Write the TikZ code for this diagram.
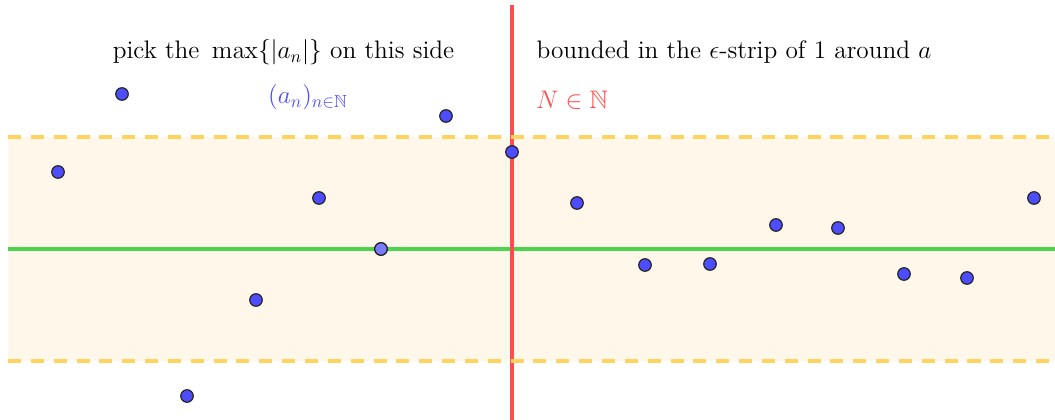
\documentclass[tikz,border=0pt]{standalone}
\usepackage{amsfonts,amsmath,amssymb}
\usepackage{xcolor}
\usetikzlibrary{arrows.meta}
\definecolor{ptblue}{HTML}{4D4DFF}
\definecolor{ptlight}{HTML}{7B7BFF}
\definecolor{nred}{HTML}{FF4D4D}
\definecolor{lgreen}{HTML}{4DD44D}
\definecolor{stripline}{HTML}{FFD35E}
\definecolor{stripfill}{HTML}{FFF8EA}
\tikzset{
  every picture/.style={font=\Large, line join=round, line cap=round},
  pt/.style={circle, draw=black!85, fill=ptblue, line width=0.7pt, inner sep=0pt, minimum size=0.25cm},
  bound/.style={draw=stripline, line width=2pt, dash pattern=on 7.4pt off 5.6pt, line cap=butt},
}
\begin{document}
\begin{tikzpicture}
\useasboundingbox (0,0) rectangle (21.1,8.4);
\fill[stripfill](0.16,1.18) rectangle (21.1,5.66);
\draw[lgreen,line width=1.8pt,line cap=butt](0.16,3.42)--(21.1,3.42);
\draw[nred,line width=2.1pt,line cap=butt](10.24,0)--(10.24,8.3);
\draw[bound](0.16,5.66)--(21.1,5.66);
\draw[bound](0.16,1.18)--(21.1,1.18);
\foreach \x/\y [count=\i] in {2.44/6.52,1.16/4.96,3.74/0.48,5.12/2.40,6.38/4.44,
  7.62/3.42,8.92/6.08,10.24/5.36,11.54/4.34,12.90/3.10,14.20/3.12,
  15.52/3.90,16.76/3.84,18.08/2.92,19.34/2.84,20.68/4.44}
  \node[pt] (a\i) at (\x,\y) {};
\node[pt,fill=ptlight] at (a6) {};
\node (left) at (5.67,7.36) {pick the \,$\max\{|a_n|\}$ on this side};
\node (right) at (14.68,7.36) {bounded in the $\epsilon$-strip of 1 around $a$};
\node[text=ptblue] (seq) at (6.16,6.46) {$(a_n)_{n\in\mathbb{N}}$};
\node[text=nred,anchor=west] (nlab) at (10.6,6.4) {$N\in\mathbb{N}$};
\end{tikzpicture}
\end{document}
